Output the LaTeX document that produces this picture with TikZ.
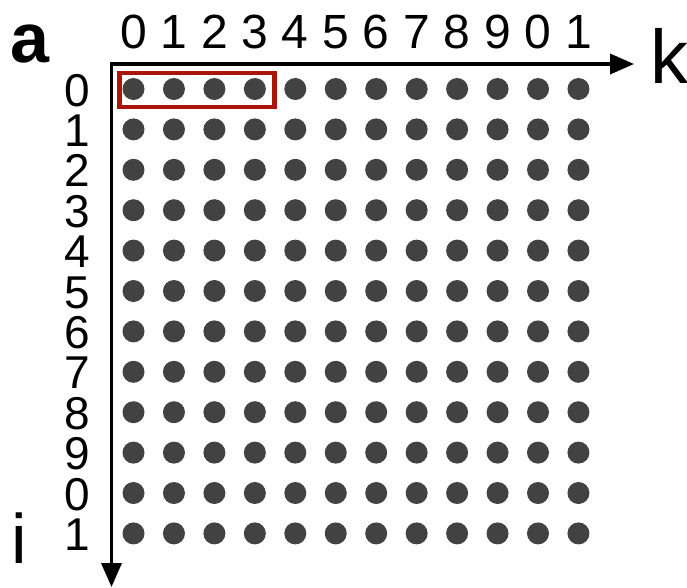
\documentclass[tikz,border=0pt]{standalone}
\usepackage{fontspec}
\setmainfont{Liberation Sans}
\usetikzlibrary{arrows.meta,calc}
\definecolor{dotgray}{RGB}{66,66,66}
\definecolor{boxred}{RGB}{170,20,10}
\tikzset{
  point/.style={circle, fill=dotgray, minimum size=22pt, inner sep=0pt},
  idx/.style={inner sep=0pt, anchor=base, font=\fontsize{48}{48}\selectfont},
  rowidx/.style={idx, font=\fontsize{46}{46}\selectfont},
  axis/.style={line width=3.6pt, line join=miter,
               {Triangle[length=24pt,width=20pt]}-{Triangle[length=24pt,width=20pt]}},
  frame/.style={draw=boxred, line width=4.2pt},
  axname/.style={inner sep=0pt, anchor=base west}
}
\begin{document}
\begin{tikzpicture}[x=1pt, y=-1pt]
\useasboundingbox (0,0) rectangle (687,587);
% matrix of points
\foreach \i in {0,...,11} {
  \foreach \j in {0,...,11} {
    \node[point] (d-\i-\j) at ({133.5+40.45*\j},{89+40.4*\i}) {};
  }
}
% column and row indices
\foreach \j [evaluate=\j as \lab using {int(mod(\j,10))}] in {0,...,11}
  \node[idx] (col-\j) at ({133.5+40.45*\j},48) {\lab};
\foreach \i [evaluate=\i as \lab using {int(mod(\i,10))}] in {0,...,11}
  \node[rowidx] (row-\i) at (77,{106+40.4*\i}) {\lab};
% axes
\coordinate (O) at (111.5,64);
\coordinate (kend) at (634,64);
\coordinate (iend) at (111.5,587);
\draw[axis] (iend) -- (O) -- (kend);
\node[axname, font=\fontsize{70}{70}\selectfont\bfseries] (a) at (10,62) {a};
\node[axname, font=\fontsize{76}{76}\selectfont] (k) at (650,83) {k};
\node[axname, font=\fontsize{70}{70}\selectfont] (i) at (11,563) {i};
% first four elements
\draw[frame] (119.5,73.3) rectangle (274.5,106.8);
\end{tikzpicture}
\end{document}
